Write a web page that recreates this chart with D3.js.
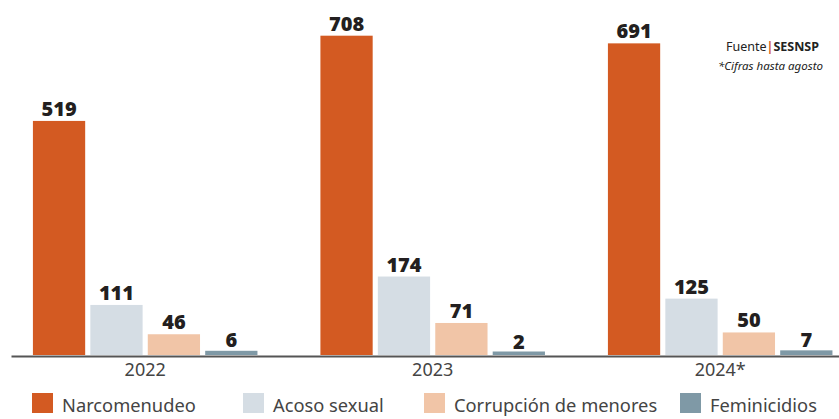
<!DOCTYPE html>
<html>
<head>
<meta charset="utf-8">
<script src="https://cdn.jsdelivr.net/npm/d3@7"></script>
<style>
  body { margin: 0; background: #fff; }
  text { font-family: "Noto Sans", sans-serif; }
</style>
</head>
<body>
<div id="chart"></div>
<script>
var years = ["2022", "2023", "2024*"];
var series = ["Narcomenudeo", "Acoso sexual", "Corrupción de menores", "Feminicidios"];
var narcomenudeo = [519, 708, 691];
var acoso = [111, 174, 125];
var corrupcion = [46, 71, 50];
var feminicidios = [6, 2, 7];
var colors = ["#d35a22", "#d5dde4", "#f1c5a7", "#7f99a6"];

var svgWidth = 839;
var svgHeight = 419;

var svg = d3.select("#chart")
  .append("svg")
  .attr("width", svgWidth)
  .attr("height", svgHeight);

var values = [narcomenudeo, acoso, corrupcion, feminicidios];
var data = years.map(function(y, i) {
  return { year: y, vals: series.map(function(s, j) { return { key: s, idx: j, value: values[j][i] }; }) };
});

var baseline = 355;

var x0 = d3.scaleBand()
  .domain(years)
  .range([11, 839])
  .paddingInner(0.219)
  .paddingOuter(0.0495)
  .align(0.77);

var x1 = d3.scaleBand()
  .domain(series)
  .range([0, x0.bandwidth()])
  .paddingInner(0.09);

var y = d3.scaleLinear()
  .domain([0, 750])
  .range([baseline, baseline - 750 * 0.451]);

var groups = svg.selectAll("g.year")
  .data(data)
  .enter()
  .append("g")
  .attr("class", "year")
  .attr("transform", d => `translate(${x0(d.year)},0)`);

// small bars get a minimum visible height, like the printed chart
groups.selectAll("rect")
  .data(d => d.vals)
  .enter()
  .append("rect")
  .attr("x", d => x1(d.key))
  .attr("y", d => Math.min(y(d.value), baseline - 2) - (d.value < 20 ? 1.5 : 0))
  .attr("width", x1.bandwidth())
  .attr("height", d => baseline - Math.min(y(d.value), baseline - 2) + (d.value < 20 ? 1.5 : 0))
  .attr("fill", d => colors[d.idx]);

groups.selectAll("text.val")
  .data(d => d.vals)
  .enter()
  .append("text")
  .attr("class", "val")
  .attr("x", d => x1(d.key) + x1.bandwidth() / 2)
  .attr("y", d => y(d.value) - 5)
  .attr("text-anchor", "middle")
  .attr("font-size", "20px")
  .attr("font-weight", "900")
  .attr("fill", "#231f20")
  .text(d => d.value);

// x axis
var xAxis = svg.append("g")
  .attr("transform", `translate(0, ${baseline + 1})`)
  .call(d3.axisBottom(x0).tickSize(0).tickSizeOuter(0).tickPadding(7));

xAxis.select(".domain")
  .attr("stroke", "#555")
  .attr("stroke-width", 2);

xAxis.selectAll("text")
  .attr("font-size", "18px")
  .attr("fill", "#444")
  .attr("font-family", "Noto Sans, sans-serif");

// legend
var legendX = [32, 243, 424, 680];
var legend = svg.selectAll("g.legend")
  .data(series)
  .enter()
  .append("g")
  .attr("class", "legend")
  .attr("transform", (d, i) => `translate(${legendX[i]}, 393)`);

legend.append("rect")
  .attr("width", 21)
  .attr("height", 20)
  .attr("fill", (d, i) => colors[i]);

legend.append("text")
  .attr("x", 30)
  .attr("y", 19)
  .attr("font-size", "18.3px")
  .attr("fill", "#444")
  .text(d => d);

// source
var source = svg.append("text")
  .attr("x", 819)
  .attr("y", 51)
  .attr("text-anchor", "end")
  .attr("font-size", "12.5px")
  .attr("fill", "#222");
source.append("tspan").text("Fuente");
source.append("tspan").attr("font-weight", "bold").attr("fill", "#d35a22").text("|");
source.append("tspan").attr("font-weight", "bold").text("SESNSP");

svg.append("text")
  .attr("x", 823)
  .attr("y", 70)
  .attr("text-anchor", "end")
  .attr("font-size", "11.5px")
  .attr("font-style", "italic")
  .attr("fill", "#222")
  .text("*Cifras hasta agosto");
</script>
</body>
</html>
